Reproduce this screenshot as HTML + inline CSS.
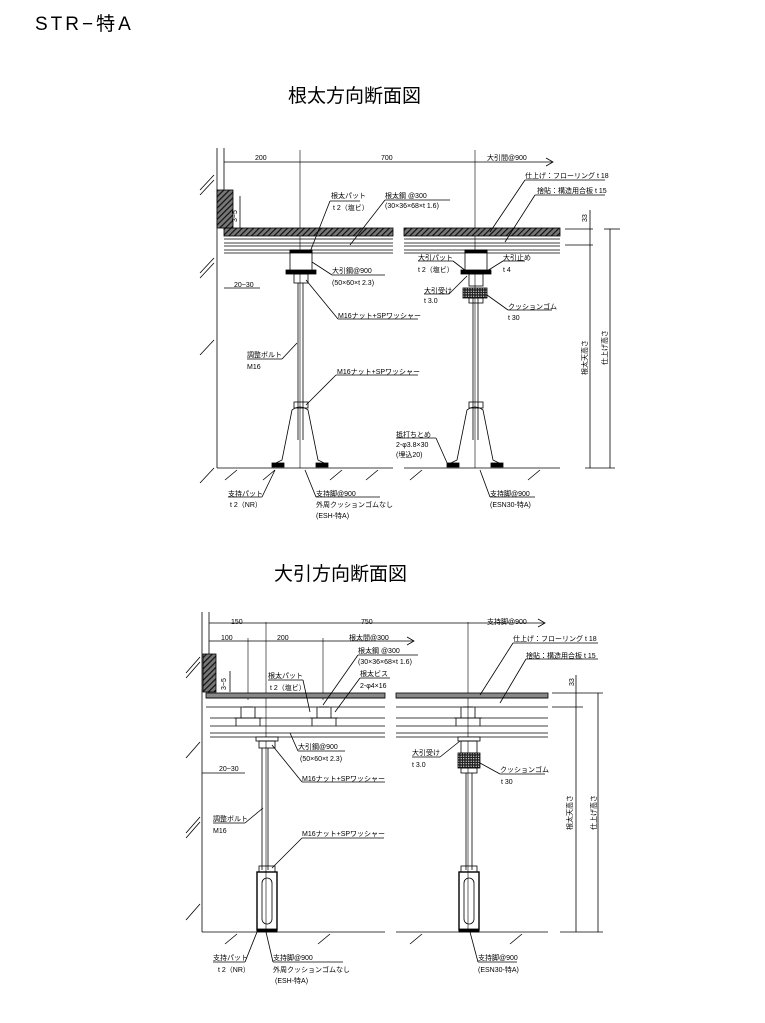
<!DOCTYPE html>
<html><head><meta charset="utf-8"><style>
body{margin:0;background:#fff}
svg{display:block}
text{font-family:"Liberation Sans","Noto Sans CJK JP",sans-serif;font-size:7px;fill:#000;stroke:none}
.t{font-size:19px}
line,path,polyline{stroke:#000;fill:none;stroke-width:.8}
.h{stroke-width:.6}
</style></head><body>
<svg width="765" height="1023" viewBox="0 0 765 1023">
<defs>
<pattern id="hp" width="4" height="4" patternUnits="userSpaceOnUse" patternTransform="rotate(45)"><rect width="4" height="4" style="fill:#777;stroke:none"/><rect width="1.2" height="4" style="fill:#111;stroke:none"/></pattern>
<pattern id="dot" width="2.5" height="2.5" patternUnits="userSpaceOnUse"><rect width="2.5" height="2.5" style="fill:#222;stroke:none"/><circle cx="1.2" cy="1.2" r=".6" style="fill:#fff;stroke:none"/></pattern>
</defs>
<text x="35" y="30" class="t" style="letter-spacing:3px">STR−特A</text>
<text x="288" y="102" class="t">根太方向断面図</text>
<text x="274" y="580" class="t">大引方向断面図</text>

<g stroke="#000" stroke-width=".8">
<line x1="217" y1="148" x2="217" y2="468"/><line x1="224" y1="148" x2="224" y2="230"/>
<g class="h"><line x1="200" y1="195" x2="214" y2="180"/><line x1="200" y1="273" x2="214" y2="258"/><line x1="200" y1="355" x2="214" y2="340"/><line x1="200" y1="483" x2="214" y2="468"/><line x1="200" y1="190" x2="214" y2="175"/><line x1="200" y1="278" x2="214" y2="263"/></g>
<rect x="217" y="190" width="16" height="38" fill="url(#hp)"/>
<line x1="224" y1="162" x2="553" y2="162"/><polyline points="546,158 553,162 546,166"/>
<line x1="300" y1="150" x2="300" y2="468" class="h"/><line x1="475" y1="150" x2="475" y2="468" class="h"/>
<rect x="224" y="228" width="169" height="8" fill="url(#hp)"/><rect x="404" y="228" width="156" height="8" fill="url(#hp)"/>
<g class="h"><line x1="224" y1="239" x2="393" y2="239"/><line x1="224" y1="243" x2="393" y2="243"/><line x1="224" y1="246" x2="393" y2="246"/><line x1="224" y1="250" x2="393" y2="250"/><line x1="224" y1="253" x2="393" y2="253"/>
<line x1="404" y1="239" x2="560" y2="239"/><line x1="404" y1="243" x2="560" y2="243"/><line x1="404" y1="246" x2="560" y2="246"/><line x1="404" y1="250" x2="560" y2="250"/><line x1="404" y1="253" x2="560" y2="253"/>
<line x1="565" y1="229" x2="593" y2="229"/><line x1="565" y1="245" x2="593" y2="245"/><line x1="590" y1="210" x2="590" y2="468"/><line x1="604" y1="229" x2="620" y2="229"/><line x1="610" y1="229" x2="610" y2="468"/><line x1="585" y1="468" x2="615" y2="468"/></g>
<g>
<rect x="290" y="250" width="22" height="21" fill="#fff"/><rect x="290" y="250" width="22" height="3" fill="#000"/><rect x="286" y="270" width="30" height="4" fill="#000"/>
<rect x="294" y="274" width="14" height="9" fill="none"/><line x1="298" y1="283" x2="298" y2="440"/><line x1="303" y1="283" x2="303" y2="440"/>
<rect x="294" y="402" width="14" height="6" fill="none"/>
<path d="M292,410 Q300,404 308,410 L318,460 L326,464 M292,410 L282,460 L274,464" stroke-width="2.4"/>
<rect x="272" y="463" width="12" height="4" fill="#000"/><rect x="316" y="463" width="12" height="4" fill="#000"/>
</g>
<g transform="translate(175,0)">
<rect x="290" y="250" width="22" height="21" fill="#fff"/><rect x="290" y="250" width="22" height="3" fill="#000"/><rect x="286" y="270" width="30" height="4" fill="#000"/>
<rect x="294" y="274" width="14" height="12" fill="none"/><line x1="298" y1="298" x2="298" y2="440"/><line x1="303" y1="298" x2="303" y2="440"/>
<rect x="288" y="288" width="24" height="10" fill="url(#dot)"/><rect x="294" y="298" width="14" height="5" fill="none"/>
<rect x="294" y="402" width="14" height="6" fill="none"/>
<path d="M292,410 Q300,404 308,410 L318,460 L326,464 M292,410 L282,460 L274,464" stroke-width="2.4"/>
<rect x="272" y="463" width="12" height="4" fill="#000"/><rect x="316" y="463" width="12" height="4" fill="#000"/>
</g>
<line x1="217" y1="468" x2="393" y2="468"/><line x1="404" y1="468" x2="560" y2="468"/>
<g class="h"><line x1="225" y1="480" x2="237" y2="470"/><line x1="263" y1="480" x2="275" y2="470"/><line x1="330" y1="480" x2="342" y2="470"/><line x1="366" y1="480" x2="378" y2="470"/><line x1="410" y1="480" x2="422" y2="470"/><line x1="528" y1="480" x2="540" y2="470"/>
<line x1="224" y1="288" x2="260" y2="288"/><line x1="240" y1="196" x2="240" y2="228"/>
<line x1="310" y1="252" x2="330" y2="201"/><line x1="330" y1="201" x2="360" y2="201"/>
<line x1="350" y1="245" x2="385" y2="200"/><line x1="385" y1="200" x2="450" y2="200"/>
<line x1="490" y1="232" x2="525" y2="180"/><line x1="525" y1="180" x2="605" y2="180"/>
<line x1="505" y1="242" x2="535" y2="195"/><line x1="535" y1="195" x2="605" y2="195"/>
<line x1="312" y1="262" x2="332" y2="275"/><line x1="332" y1="275" x2="385" y2="275"/>
<line x1="306" y1="280" x2="338" y2="319"/><line x1="338" y1="319" x2="418" y2="319"/>
<line x1="297" y1="343" x2="282" y2="359"/><line x1="247" y1="359" x2="282" y2="359"/>
<line x1="306" y1="405" x2="336" y2="375"/><line x1="336" y1="375" x2="418" y2="375"/>
<line x1="418" y1="261" x2="453" y2="261"/><line x1="453" y1="261" x2="466" y2="271"/>
<line x1="503" y1="261" x2="525" y2="261"/><line x1="503" y1="261" x2="487" y2="271"/>
<line x1="424" y1="294" x2="449" y2="294"/><line x1="449" y1="294" x2="467" y2="276"/>
<line x1="508" y1="310" x2="552" y2="310"/><line x1="508" y1="310" x2="487" y2="295"/>
<line x1="396" y1="438" x2="436" y2="438"/><line x1="436" y1="438" x2="448" y2="465"/>
<line x1="228" y1="497" x2="262" y2="497"/><line x1="262" y1="497" x2="275" y2="470"/>
<line x1="316" y1="497" x2="380" y2="497"/><line x1="316" y1="497" x2="305" y2="470"/>
<line x1="490" y1="497" x2="535" y2="497"/><line x1="490" y1="497" x2="480" y2="470"/></g>

<line x1="202" y1="612" x2="202" y2="932"/><line x1="209" y1="612" x2="209" y2="695"/>
<g class="h"><line x1="186" y1="678" x2="200" y2="662"/><line x1="186" y1="758" x2="200" y2="742"/><line x1="186" y1="838" x2="200" y2="822"/><line x1="186" y1="920" x2="200" y2="904"/><line x1="186" y1="673" x2="200" y2="657"/><line x1="186" y1="833" x2="200" y2="817"/></g>
<rect x="203" y="654" width="13" height="38" fill="url(#hp)"/>
<line x1="209" y1="623" x2="545" y2="623"/><polyline points="538,619 545,623 538,627"/>
<line x1="209" y1="641" x2="414" y2="641"/><polyline points="407,637 414,641 407,645"/>
<line x1="266" y1="622" x2="266" y2="932" class="h"/><line x1="468" y1="622" x2="468" y2="932" class="h"/>
<line x1="248" y1="638" x2="248" y2="700" class="h"/><line x1="323" y1="638" x2="323" y2="700" class="h"/>
<rect x="206" y="693" width="179" height="5" fill="#888"/><rect x="396" y="693" width="152" height="5" fill="#888"/>
<g class="h"><line x1="206" y1="698" x2="385" y2="698"/><line x1="206" y1="707" x2="385" y2="707"/><line x1="396" y1="698" x2="548" y2="698"/><line x1="396" y1="707" x2="548" y2="707"/>
<line x1="210" y1="718" x2="385" y2="718"/><line x1="210" y1="726" x2="385" y2="726"/><line x1="210" y1="733" x2="385" y2="733"/><line x1="210" y1="737" x2="385" y2="737"/>
<line x1="396" y1="718" x2="548" y2="718"/><line x1="396" y1="726" x2="548" y2="726"/><line x1="396" y1="733" x2="548" y2="733"/><line x1="396" y1="737" x2="548" y2="737"/>
<line x1="552" y1="693" x2="603" y2="693"/><line x1="552" y1="707" x2="583" y2="707"/><line x1="576" y1="675" x2="576" y2="932"/><line x1="598" y1="693" x2="598" y2="932"/><line x1="560" y1="932" x2="603" y2="932"/>
<line x1="202" y1="773" x2="245" y2="773"/><line x1="230" y1="671" x2="230" y2="692"/></g>
<g id="jb"><path d="M241,707 L241,718 M255,707 L255,718 M243,707 L253,707"/><line x1="234" y1="718" x2="262" y2="718" stroke-width="2"/><path d="M236,718 L236,726 M260,718 L260,726" stroke-width="1.4"/></g>
<use href="#jb" transform="translate(76,0)"/><use href="#jb" transform="translate(220,0)"/>
<rect x="256" y="737" width="22" height="4" fill="#fff"/><rect x="259" y="741" width="16" height="7" fill="none"/>
<line x1="262" y1="748" x2="262" y2="870"/><line x1="268" y1="748" x2="268" y2="870"/>
<rect x="259" y="866" width="16" height="6" fill="none"/><rect x="257" y="872" width="20" height="58" stroke-width="1.4" fill="none"/><rect x="262" y="878" width="10" height="46" rx="5" fill="none"/>
<rect x="257" y="929" width="20" height="3" fill="#000"/>
<rect x="458" y="737" width="22" height="4" fill="#fff"/><rect x="461" y="741" width="16" height="12" fill="none"/>
<rect x="458" y="753" width="22" height="15" fill="url(#dot)"/><rect x="461" y="768" width="16" height="5" fill="none"/>
<line x1="466" y1="773" x2="466" y2="870"/><line x1="472" y1="773" x2="472" y2="870"/>
<rect x="461" y="866" width="16" height="6" fill="none"/><rect x="459" y="872" width="20" height="58" stroke-width="1.4" fill="none"/><rect x="464" y="878" width="10" height="46" rx="5" fill="none"/>
<rect x="459" y="929" width="20" height="3" fill="#000"/>
<line x1="202" y1="932" x2="385" y2="932"/><line x1="396" y1="932" x2="548" y2="932"/>
<g class="h"><line x1="225" y1="944" x2="237" y2="934"/><line x1="318" y1="944" x2="330" y2="934"/><line x1="410" y1="944" x2="422" y2="934"/><line x1="510" y1="944" x2="522" y2="934"/>
<line x1="358" y1="655" x2="418" y2="655"/><line x1="358" y1="655" x2="323" y2="705"/>
<line x1="513" y1="643" x2="598" y2="643"/><line x1="513" y1="643" x2="480" y2="695"/>
<line x1="526" y1="659" x2="598" y2="659"/><line x1="526" y1="659" x2="500" y2="703"/>
<line x1="268" y1="680" x2="303" y2="680"/><line x1="303" y1="680" x2="310" y2="712"/>
<line x1="360" y1="678" x2="390" y2="678"/><line x1="360" y1="678" x2="335" y2="712"/>
<line x1="298" y1="751" x2="345" y2="751"/><line x1="298" y1="751" x2="290" y2="733"/>
<line x1="272" y1="745" x2="302" y2="782"/><line x1="302" y1="782" x2="385" y2="782"/>
<line x1="263" y1="808" x2="245" y2="823"/><line x1="213" y1="823" x2="245" y2="823"/>
<line x1="272" y1="868" x2="302" y2="838"/><line x1="302" y1="838" x2="384" y2="838"/>
<line x1="412" y1="757" x2="440" y2="757"/><line x1="440" y1="757" x2="460" y2="741"/>
<line x1="500" y1="774" x2="545" y2="774"/><line x1="500" y1="774" x2="480" y2="763"/>
<line x1="213" y1="962" x2="245" y2="962"/><line x1="245" y1="962" x2="257" y2="932"/>
<line x1="273" y1="962" x2="343" y2="962"/><line x1="273" y1="962" x2="266" y2="932"/>
<line x1="478" y1="962" x2="517" y2="962"/><line x1="478" y1="962" x2="470" y2="932"/></g>
</g>

<text x="255" y="160">200</text><text x="381" y="160">700</text><text x="487" y="160">大引間@900</text>
<text x="331" y="198">根太パット</text><text x="333" y="210">t 2（塩ビ）</text>
<text x="385" y="198">根太鋼 @300</text><text x="385" y="208">(30×36×68×t 1.6)</text>
<text x="525" y="178">仕上げ：フローリング t 18</text><text x="537" y="193">捨貼：構造用合板 t 15</text>
<text x="332" y="273">大引鋼@900</text><text x="332" y="285">(50×60×t 2.3)</text>
<text x="234" y="287">20~30</text>
<text x="338" y="318">M16ナット+SPワッシャー</text>
<text x="247" y="357">調整ボルト</text><text x="247" y="369">M16</text>
<text x="337" y="374">M16ナット+SPワッシャー</text>
<text x="418" y="260">大引パット</text><text x="418" y="272">t 2（塩ビ）</text>
<text x="503" y="260">大引止め</text><text x="503" y="272">t 4</text>
<text x="424" y="293">大引受け</text><text x="424" y="303">t 3.0</text>
<text x="508" y="309">クッションゴム</text><text x="508" y="320">t 30</text>
<text x="396" y="437">抵打ちとめ</text><text x="396" y="447">2-φ3.8×30</text><text x="396" y="457">(埋込20)</text>
<text x="228" y="496">支持パット</text><text x="230" y="507">t 2（NR）</text>
<text x="316" y="496">支持脚@900</text><text x="316" y="507">外周クッションゴムなし</text><text x="316" y="518">(ESH-特A)</text>
<text x="490" y="496">支持脚@900</text><text x="490" y="507">(ESN30-特A)</text>
<text transform="translate(237,222) rotate(-90)">3~5</text>
<text transform="translate(587,222) rotate(-90)">33</text>
<text transform="translate(587,375) rotate(-90)">根太天高さ</text>
<text transform="translate(607,365) rotate(-90)">仕上げ高さ</text>

<text x="231" y="624">150</text><text x="361" y="624">750</text><text x="487" y="624">支持脚@900</text>
<text x="221" y="640">100</text><text x="277" y="640">200</text><text x="349" y="640">根太間@300</text>
<text x="358" y="653">根太鋼 @300</text><text x="358" y="664">(30×36×68×t 1.6)</text>
<text x="513" y="641">仕上げ：フローリング t 18</text><text x="526" y="658">捨貼：構造用合板 t 15</text>
<text x="268" y="678">根太パット</text><text x="270" y="690">t 2（塩ビ）</text>
<text x="360" y="676">根太ビス</text><text x="360" y="688">2-φ4×16</text>
<text x="298" y="749">大引鋼@900</text><text x="300" y="761">(50×60×t 2.3)</text>
<text x="219" y="771">20~30</text>
<text x="302" y="781">M16ナット+SPワッシャー</text>
<text x="213" y="821">調整ボルト</text><text x="213" y="833">M16</text>
<text x="302" y="836">M16ナット+SPワッシャー</text>
<text x="412" y="755">大引受け</text><text x="412" y="767">t 3.0</text>
<text x="500" y="772">クッションゴム</text><text x="501" y="784">t 30</text>
<text x="213" y="960">支持パット</text><text x="218" y="972">t 2（NR）</text>
<text x="273" y="960">支持脚@900</text><text x="273" y="972">外周クッションゴムなし</text><text x="275" y="983">(ESH-特A)</text>
<text x="478" y="960">支持脚@900</text><text x="478" y="972">(ESN30-特A)</text>
<text transform="translate(226,690) rotate(-90)">3~5</text>
<text transform="translate(574,686) rotate(-90)">33</text>
<text transform="translate(572,830) rotate(-90)">根太天高さ</text>
<text transform="translate(596,830) rotate(-90)">仕上げ高さ</text>
</svg>
</body></html>
